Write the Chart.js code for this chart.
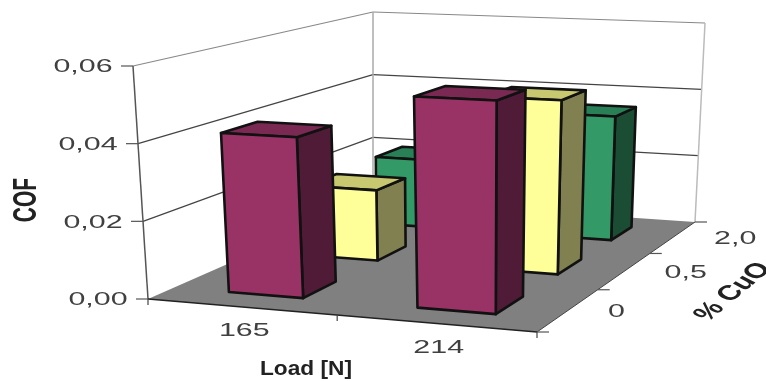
<!DOCTYPE html>
<html lang="en">
<head>
  <meta charset="UTF-8">
  <title>COF vs load and CuO</title>
  <script src="https://cdn.jsdelivr.net/npm/chart.js"></script>
  <style>
    body { margin: 0; background: #fff; overflow: hidden; }
    canvas { filter: blur(0.6px); }
  </style>
</head>
<body>
  <canvas id="chart" width="766" height="381"></canvas>
  <script>
    const categories = ['165', '214'];
    const cuoLevels = ['0', '0,5', '2,0'];
    const cof0 = [0.0415, 0.0535];
    const cof05 = [0.0195, 0.047];
    const cof20 = [0.020, 0.0358];
    const yTicks = [0, 0.02, 0.04, 0.06];
    const yTickLabels = ['0,00', '0,02', '0,04', '0,06'];

    // face colours: front, top, side
    const palette = [
      ['#993366', '#7a2952', '#4f1b36'],
      ['#ffff99', '#c8c870', '#808050'],
      ['#339966', '#2a8056', '#1a4d33']
    ];

    // corners of the 3D box on screen: front-left, front-right, back-right, back-left
    const floorQuad = [[148, 299], [537, 332], [695, 222], [373, 200]];
    const roofQuad = [[133, 66], [541, 85], [705, 23], [373, 12]];
    const barW = 0.40, barD = 0.42;

    function homography(q) {
      const [[x0, y0], [x1, y1], [x2, y2], [x3, y3]] = q;
      const dx1 = x1 - x2, dx2 = x3 - x2, sx = x0 - x1 + x2 - x3;
      const dy1 = y1 - y2, dy2 = y3 - y2, sy = y0 - y1 + y2 - y3;
      const den = dx1 * dy2 - dx2 * dy1;
      const g = (sx * dy2 - dx2 * sy) / den, h = (dx1 * sy - sx * dy1) / den;
      const a = x1 - x0 + g * x1, b = x3 - x0 + h * x3;
      const d = y1 - y0 + g * y1, e = y3 - y0 + h * y3;
      return (u, v) => {
        const w = g * u + h * v + 1;
        return [(a * u + b * v + x0) / w, (d * u + e * v + y0) / w];
      };
    }
    const floorH = homography(floorQuad), roofH = homography(roofQuad);

    // u, v, t are all 0..1 fractions taken from the chart scales
    function project(u, v, t) {
      const p = floorH(u, v), q = roofH(u, v);
      return [p[0] + (q[0] - p[0]) * t, p[1] + (q[1] - p[1]) * t];
    }

    function poly(ctx, pts, fill, stroke, lw) {
      ctx.beginPath();
      pts.forEach((p, i) => i ? ctx.lineTo(p[0], p[1]) : ctx.moveTo(p[0], p[1]));
      ctx.closePath();
      if (fill) { ctx.fillStyle = fill; ctx.fill(); }
      if (stroke) { ctx.strokeStyle = stroke; ctx.lineWidth = lw; ctx.lineJoin = 'round'; ctx.stroke(); }
    }

    function line(ctx, a, b, color, lw) {
      ctx.beginPath();
      ctx.moveTo(a[0], a[1]);
      ctx.lineTo(b[0], b[1]);
      ctx.strokeStyle = color;
      ctx.lineWidth = lw;
      ctx.stroke();
    }

    // the scan is stretched sideways, so the text is too (also when rotated)
    function label(ctx, text, x, y, opts) {
      const o = Object.assign({ sx: 1.6, rot: 0, font: '19px "Liberation Sans"', color: '#404040' }, opts);
      ctx.save();
      ctx.translate(x, y);
      ctx.scale(o.sx, 1);
      ctx.rotate(o.rot);
      ctx.font = o.font;
      ctx.fillStyle = o.color;
      ctx.textAlign = 'center';
      ctx.textBaseline = 'middle';
      ctx.fillText(text, 0, 0);
      ctx.restore();
    }

    const fracs = chart => ({
      u: i => (chart.scales.x.getPixelForValue(i) - chart.scales.x.left) / chart.scales.x.width,
      v: i => (chart.scales.z.getPixelForValue(i) - chart.scales.z.left) / chart.scales.z.width,
      t: val => (chart.scales.y.bottom - chart.scales.y.getPixelForValue(val)) / chart.scales.y.height
    });

    const box3d = {
      id: 'box3d',
      beforeDatasetsDraw(chart) {
        const ctx = chart.ctx, f = fracs(chart);
        poly(ctx, [project(0, 0, 0), project(1, 0, 0), project(1, 1, 0), project(0, 1, 0)], '#808080');
        // walls
        yTicks.forEach(val => {
          const t = f.t(val), c = val === 0.06 ? '#888' : '#444';
          if (val > 0) {
            line(ctx, project(0, 0, t), project(0, 1, t), c, 1.2);
            line(ctx, project(0, 1, t), project(1, 1, t), c, 1.2);
          }
        });
        line(ctx, project(0, 1, 0), project(0, 1, 1), '#aaa', 1.5);
        line(ctx, project(1, 1, 0), project(1, 1, 1), '#bbb', 1.5);
        // value axis
        line(ctx, project(0, 0, 0), project(0, 0, 1), '#555', 1.5);
        yTicks.forEach((val, i) => {
          const p = project(0, 0, f.t(val));
          line(ctx, [p[0] - 12, p[1]], p, '#555', 1.2);
          label(ctx, yTickLabels[i], p[0] - 50, p[1] + 1);
        });
        // floor edges and ticks
        line(ctx, project(0, 0, 0), project(1, 0, 0), '#222', 1.5);
        line(ctx, project(1, 0, 0), project(1, 1, 0), '#444', 1);
        [0, 0.5, 1].forEach(u => {
          const p = project(u, 0, 0);
          line(ctx, p, [p[0], p[1] + 6], '#444', 1.2);
        });
        [0, 1, 2, 3].forEach(i => {
          const p = project(1, i / 3, 0);
          line(ctx, p, [p[0] + 12, p[1]], '#555', 1.2);
        });
      },
      afterDatasetsDraw(chart) {
        const ctx = chart.ctx, f = fracs(chart);
        // back row first so the nearer bars cover it
        for (let d = chart.data.datasets.length - 1; d >= 0; d--) {
          const ds = chart.data.datasets[d];
          ds.data.forEach((val, i) => {
            const u0 = f.u(i - barW / 2), u1 = f.u(i + barW / 2);
            const v0 = f.v(d - barD / 2), v1 = f.v(d + barD / 2);
            const t = f.t(val), c = palette[d];
            const fb = [project(u0, v0, 0), project(u1, v0, 0), project(u1, v1, 0)];
            const ft = [project(u0, v0, t), project(u1, v0, t), project(u1, v1, t), project(u0, v1, t)];
            poly(ctx, [fb[1], fb[2], ft[2], ft[1]], c[2], '#111', 2.6);
            poly(ctx, ft, c[1], '#111', 2.6);
            poly(ctx, [fb[0], fb[1], ft[1], ft[0]], c[0], '#111', 2.6);
          });
        }
        // axis text
        categories.forEach((name, i) => {
          const p = project(f.u(i), 0, 0);
          label(ctx, name, p[0] + 3, p[1] + 24);
        });
        const depthOffset = [48, 61, 62];
        cuoLevels.forEach((name, i) => {
          const p = project(1, f.v(i), 0);
          label(ctx, name, p[0] + depthOffset[i], p[1] + 2);
        });
        label(ctx, 'Load [N]', 306, 369, { font: 'bold 21px "Liberation Sans"', color: '#222', sx: 1.08 });
        label(ctx, 'COF', 27, 200, { font: 'bold 21px "Liberation Sans"', color: '#222', rot: -Math.PI / 2 });
        label(ctx, '% CuO', 733, 292, { font: 'bold 21px "Liberation Sans"', color: '#222', rot: -0.9, sx: 1.5 });
      }
    };

    new Chart(document.getElementById('chart'), {
      type: 'bar',
      data: {
        labels: categories,
        datasets: [
          { label: cuoLevels[0], data: cof0, backgroundColor: 'transparent' },
          { label: cuoLevels[1], data: cof05, backgroundColor: 'transparent' },
          { label: cuoLevels[2], data: cof20, backgroundColor: 'transparent' }
        ]
      },
      options: {
        responsive: false,
        animation: false,
        plugins: { legend: { display: false }, tooltip: { enabled: false } },
        scales: {
          x: { display: false },
          y: { display: false, min: 0, max: 0.06 },
          z: { axis: 'x', type: 'category', labels: cuoLevels, display: false, position: 'bottom' }
        }
      },
      plugins: [box3d]
    });
  </script>
</body>
</html>
